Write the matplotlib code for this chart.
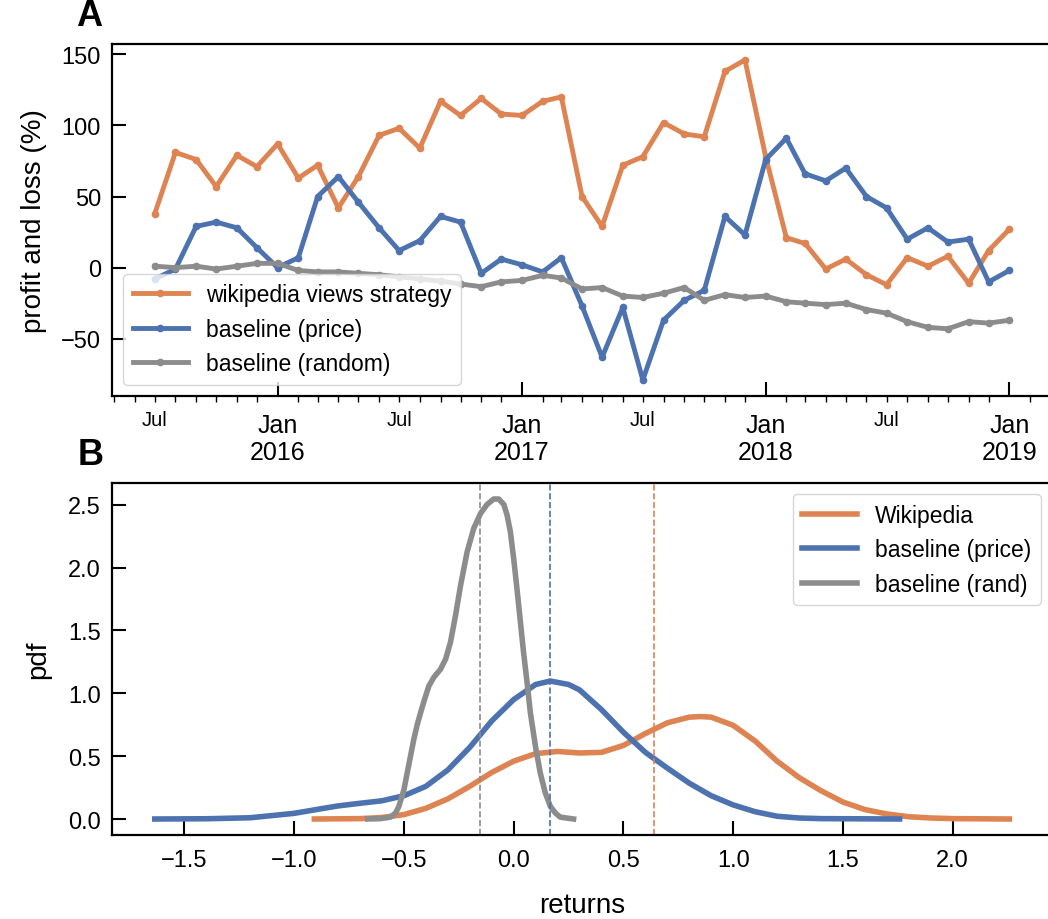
import pandas as pd
import matplotlib
matplotlib.use("Agg")
import matplotlib.pyplot as plt
import matplotlib.dates as mdates
from matplotlib.ticker import FuncFormatter

plt.rcParams['font.family'] = ['Liberation Sans', 'DejaVu Sans']

ORANGE = "#DD8452"
BLUE = "#4C72B0"
GRAY = "#8C8C8C"

# panel A: monthly profit and loss (%), Jul 2015 .. Jan 2019
months = pd.date_range("2015-07-01", "2019-01-01", freq="MS")
wiki_pnl = [38, 81, 76, 57, 79, 71, 87, 63, 72, 42, 64, 93, 98, 84, 117, 107, 119, 108, 107, 117, 120,
            50, 29, 72, 78, 102, 94, 92, 138, 146, 78, 21, 17, -1, 6, -5, -12, 7, 1, 8, -11, 12, 27]
price_pnl = [-8, -1, 29, 32, 28, 14, 0, 7, 50, 64, 46, 28, 12, 19, 36, 32, -4, 6, 2, -3, 7,
             -27, -63, -28, -79, -37, -23, -16, 36, 23, 76, 91, 66, 61, 70, 50, 42, 20, 28, 18, 20, -10, -2]
random_pnl = [1, 0, 1, -1, 1, 3, 3, -2, -3, -3, -4, -5, -6.5, -8, -9.5, -11.5, -13.4, -10, -9, -5.4, -7.3,
              -15, -14, -20, -21, -18, -14, -23, -19, -21, -20, -24, -25, -26, -25, -29.5, -32, -38, -42, -43, -38, -39, -37]

# panel B: density of returns (curves)
wiki_x = [-0.908, -0.7, -0.6, -0.5, -0.4, -0.3, -0.2, -0.1, 0.0, 0.1, 0.2, 0.3, 0.4, 0.5, 0.6,
          0.7, 0.8, 0.85, 0.9, 1.0, 1.1, 1.2, 1.3, 1.4, 1.5, 1.6, 1.7, 1.8, 1.9, 2.0, 2.258]
wiki_pdf = [0.0, 0.003, 0.012, 0.035, 0.085, 0.16, 0.26, 0.37, 0.46, 0.52, 0.537, 0.525, 0.53, 0.585, 0.68,
            0.765, 0.81, 0.815, 0.81, 0.745, 0.62, 0.46, 0.33, 0.225, 0.135, 0.075, 0.04, 0.018, 0.008, 0.003, 0.0]
price_x = [-1.635, -1.4, -1.2, -1.0, -0.9, -0.8, -0.7, -0.6, -0.5, -0.4, -0.3, -0.2, -0.1, 0.0,
           0.1, 0.167, 0.25, 0.3, 0.4, 0.5, 0.6, 0.7, 0.8, 0.9, 1.0, 1.1, 1.2, 1.3, 1.4, 1.758]
price_pdf = [0.0, 0.002, 0.01, 0.045, 0.075, 0.104, 0.125, 0.145, 0.185, 0.26, 0.39, 0.57, 0.78, 0.95,
             1.07, 1.097, 1.07, 1.027, 0.87, 0.69, 0.53, 0.405, 0.285, 0.185, 0.112, 0.058, 0.022, 0.008, 0.003, 0.0]
rand_x = [-0.665, -0.606, -0.561, -0.538, -0.523, -0.5, -0.485, -0.47, -0.455, -0.439, -0.424, -0.406,
          -0.386, -0.364, -0.333, -0.31, -0.288, -0.265, -0.242, -0.212, -0.182, -0.151, -0.121,
          -0.091, -0.068, -0.045, -0.03, -0.015, 0.0, 0.015, 0.03, 0.045, 0.061, 0.076, 0.099,
          0.121, 0.144, 0.167, 0.19, 0.212, 0.273]
rand_pdf = [0.0, 0.003, 0.015, 0.048, 0.10, 0.233, 0.367, 0.5, 0.633, 0.753, 0.846, 0.952,
            1.059, 1.126, 1.192, 1.272, 1.405, 1.618, 1.857, 2.125, 2.311, 2.43, 2.502,
            2.545, 2.545, 2.502, 2.417, 2.284, 2.071, 1.831, 1.578, 1.325, 1.086, 0.846, 0.58,
            0.367, 0.208, 0.10, 0.048, 0.015, 0.0]
mean_returns = {"rand": -0.153, "price": 0.167, "wiki": 0.638}

fig = plt.figure(figsize=(10.48, 9.2), dpi=100)
ax1 = fig.add_axes([0.1069, 0.5685, 0.897, 0.3826])
ax2 = fig.add_axes([0.1069, 0.0913, 0.897, 0.3826])

for ax in (ax1, ax2):
    for s in ax.spines.values():
        s.set_linewidth(1.6)

ax1.plot(months, wiki_pnl, color=ORANGE, lw=3.5, marker="o", ms=4.5, label="wikipedia views strategy")
ax1.plot(months, price_pnl, color=BLUE, lw=3.5, marker="o", ms=4.5, label="baseline (price)")
ax1.plot(months, random_pnl, color=GRAY, lw=3.5, marker="o", ms=4.5, label="baseline (random)")
ax1.xaxis.set_major_locator(mdates.YearLocator())
ax1.xaxis.set_major_formatter(mdates.DateFormatter("%b\n%Y"))
ax1.xaxis.set_minor_locator(mdates.MonthLocator())
ax1.xaxis.set_minor_formatter(FuncFormatter(
    lambda v, p: "Jul" if mdates.num2date(v).month == 7 else ""))
ax1.tick_params(axis="x", which="major", direction="in", length=10, width=1.5, labelsize=18, pad=12)
ax1.tick_params(axis="x", which="minor", direction="out", length=4, width=1, labelsize=14.5, pad=6)
ax1.tick_params(axis="y", direction="in", length=10, width=1.5, labelsize=17, pad=8)
ax1.set_ylabel("profit and loss (%)", fontsize=20, labelpad=10)
ax1.legend(loc="lower left", fontsize=16.5, handlelength=2.4)

ax2.plot(wiki_x, wiki_pdf, color=ORANGE, lw=4, label="Wikipedia")
ax2.plot(price_x, price_pdf, color=BLUE, lw=4, label="baseline (price)")
ax2.plot(rand_x, rand_pdf, color=GRAY, lw=4, label="baseline (rand)")
ax2.axvline(mean_returns["rand"], color=GRAY, ls="--", lw=1.2)
ax2.axvline(mean_returns["price"], color=BLUE, ls="--", lw=1.2)
ax2.axvline(mean_returns["wiki"], color=ORANGE, ls="--", lw=1.2)
ax2.tick_params(axis="y", direction="in", length=10, width=1.5, labelsize=17, pad=8)
ax2.tick_params(axis="x", direction="in", length=10, width=1.5, labelsize=17, pad=10)
ax2.set_xlabel("returns", fontsize=20, labelpad=15)
ax2.set_ylabel("pdf", fontsize=20, labelpad=12)
ax2.legend(loc="upper right", fontsize=16.5, handlelength=2.4)

fig.text(89 / 1048, 1 - 17 / 920, "A", fontsize=26, fontweight="bold", ha="center", va="center")
fig.text(91 / 1048, 1 - 456 / 920, "B", fontsize=26, fontweight="bold", ha="center", va="center")

fig.savefig("out.png", dpi=100)
